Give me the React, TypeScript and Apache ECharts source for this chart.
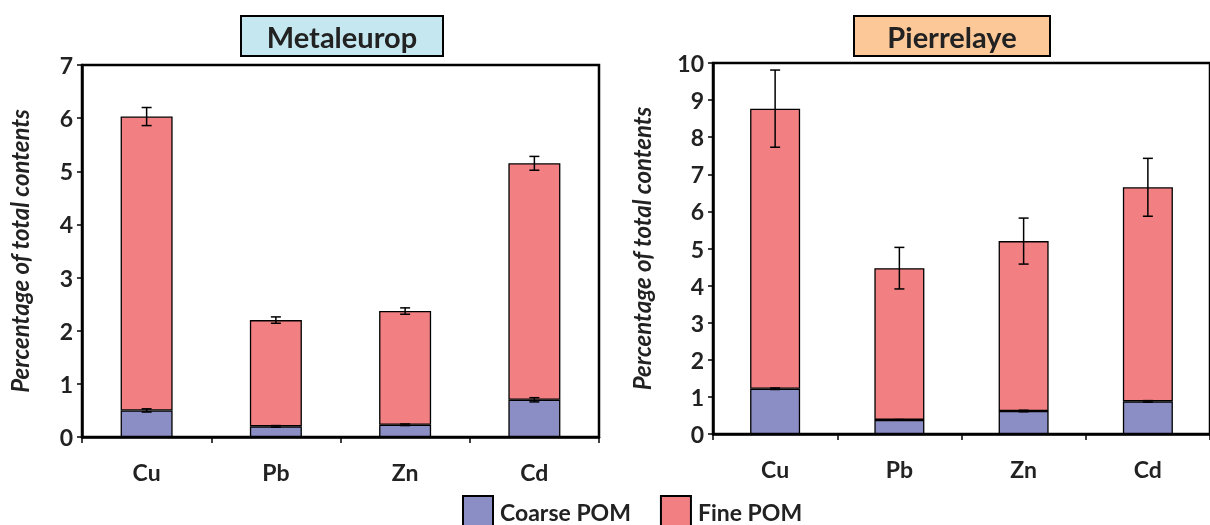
import React, { useEffect, useRef } from "react";
import * as echarts from "echarts";

const categories = ["Cu", "Pb", "Zn", "Cd"];
// Metaleurop
const metCoarse = [0.5, 0.2, 0.23, 0.7];
const metFine = [5.53, 2.0, 2.14, 4.45];
const metTotalErr = [0.17, 0.06, 0.06, 0.13];
const metCoarseErr = [0.03, 0.015, 0.015, 0.04];
// Pierrelaye
const pieCoarse = [1.22, 0.38, 0.62, 0.88];
const pieFine = [7.55, 4.09, 4.58, 5.77];
const pieTotalErr = [1.04, 0.56, 0.62, 0.78];
const pieCoarseErr = [0.02, 0.01, 0.02, 0.02];

const metTicks = [0, 1, 2, 3, 4, 5, 6, 7];
const pieTicks = [0, 1, 2, 3, 4, 5, 6, 7, 8, 9, 10];

const COARSE = "#8b8ec4";
const FINE = "#f28082";
const FONT = "Lato, 'Open Sans', sans-serif";

function errData(coarse: number[], fine: number[], tErr: number[], cErr: number[]) {
  const out: number[][] = [];
  categories.forEach((_, i) => {
    out.push([i, coarse[i] + fine[i], tErr[i]]);
    out.push([i, coarse[i], cErr[i]]);
  });
  return out;
}

function renderErr(params: any, api: any) {
  const x = api.value(0);
  const v = api.value(1);
  const e = api.value(2);
  const top = api.coord([x, v + e]);
  const bot = api.coord([x, v - e]);
  const cap = 5;
  const style = { stroke: "#000", lineWidth: 1.5 };
  return {
    type: "group",
    children: [
      { type: "line", shape: { x1: top[0], y1: top[1], x2: bot[0], y2: bot[1] }, style },
      { type: "line", shape: { x1: top[0] - cap, y1: top[1], x2: top[0] + cap, y2: top[1] }, style },
      { type: "line", shape: { x1: bot[0] - cap, y1: bot[1], x2: bot[0] + cap, y2: bot[1] }, style },
    ],
  };
}

export default function App() {
  const ref = useRef<HTMLDivElement>(null);
  useEffect(() => {
    if (!ref.current) return;
    const chart = echarts.init(ref.current, null, { renderer: "svg" });
    const xAxisBase = {
      type: "category",
      data: categories,
      boundaryGap: true,
      axisLine: { lineStyle: { color: "#000", width: 2.5 } },
      axisTick: { show: true, length: 6, lineStyle: { color: "#000", width: 1.5 } },
      axisLabel: { color: "#222", fontSize: 23, fontWeight: "bold", fontFamily: FONT, margin: 23 },
    };
    const yAxisBase = (max: number, ticks: number[], gap: number) => ({
      type: "value",
      min: ticks[0],
      max,
      interval: 1,
      axisLine: { show: true, lineStyle: { color: "#000", width: 2.5 } },
      axisTick: { show: true, length: 5, lineStyle: { color: "#000", width: 1.5 } },
      splitLine: { show: false },
      axisLabel: { color: "#222", fontSize: 23, fontWeight: "bold", fontFamily: FONT, margin: 9 },
      name: "Percentage of total contents",
      nameLocation: "middle",
      nameRotate: 90,
      nameGap: gap,
      nameTextStyle: { color: "#222", fontSize: 24, fontWeight: "bold", fontStyle: "italic", fontFamily: FONT },
    });
    const barSeries = (name: string, data: number[], color: string, idx: number) => ({
      name,
      type: "bar",
      stack: "s" + idx,
      xAxisIndex: idx,
      yAxisIndex: idx,
      data,
      barWidth: idx === 0 ? 52 : 50,
      itemStyle: { color, borderColor: "#000", borderWidth: 1.3 },
    });
    const titleBox = (x: number, w: number, text: string, fill: string) => ({
      type: "group",
      left: x,
      top: 15,
      children: [
        { type: "rect", shape: { x: 0, y: 0, width: w, height: 40 }, style: { fill, stroke: "#000", lineWidth: 2 } },
        {
          type: "text",
          x: w / 2,
          y: 20,
          style: { text, fill: "#222", font: `bold 29px ${FONT}`, align: "center", verticalAlign: "middle" },
        },
      ],
    });
    chart.setOption({
      animation: false,
      grid: [
        { left: 82, top: 65, width: 517, height: 372, show: true, borderColor: "#000", borderWidth: 2.5, backgroundColor: "transparent" },
        { left: 713, top: 63, width: 501, height: 371, show: true, borderColor: "#000", borderWidth: 2.5, backgroundColor: "transparent" },
      ],
      xAxis: [
        { ...xAxisBase, gridIndex: 0 },
        { ...xAxisBase, gridIndex: 1 },
      ],
      yAxis: [
        { ...yAxisBase(7, metTicks, 51), gridIndex: 0 },
        { ...yAxisBase(10, pieTicks, 60), gridIndex: 1 },
      ],
      legend: {
        left: 462,
        top: 495,
        padding: 0,
        itemWidth: 30,
        itemHeight: 31,
        itemGap: 29,
        icon: "rect",
        textStyle: { color: "#222", fontSize: 23, fontWeight: "bold", fontFamily: FONT, padding: [0, 0, 0, 2] },
        data: [
          { name: "Coarse POM", itemStyle: { color: COARSE, borderColor: "#000", borderWidth: 2 } },
          { name: "Fine POM", itemStyle: { color: FINE, borderColor: "#000", borderWidth: 2 } },
        ],
      },
      graphic: [titleBox(240, 202, "Metaleurop", "#c5e8f0"), titleBox(853, 196, "Pierrelaye", "#fcc898")],
      series: [
        barSeries("Coarse POM", metCoarse, COARSE, 0),
        barSeries("Fine POM", metFine, FINE, 0),
        barSeries("Coarse POM", pieCoarse, COARSE, 1),
        barSeries("Fine POM", pieFine, FINE, 1),
        {
          type: "custom",
          xAxisIndex: 0,
          yAxisIndex: 0,
          renderItem: renderErr,
          data: errData(metCoarse, metFine, metTotalErr, metCoarseErr),
          z: 10,
          silent: true,
        },
        {
          type: "custom",
          xAxisIndex: 1,
          yAxisIndex: 1,
          renderItem: renderErr,
          data: errData(pieCoarse, pieFine, pieTotalErr, pieCoarseErr),
          z: 10,
          silent: true,
        },
      ],
    });
    return () => chart.dispose();
  }, []);
  return <div ref={ref} style={{ position: "fixed", left: 0, top: 0, width: 1210, height: 525 }} />;
}
